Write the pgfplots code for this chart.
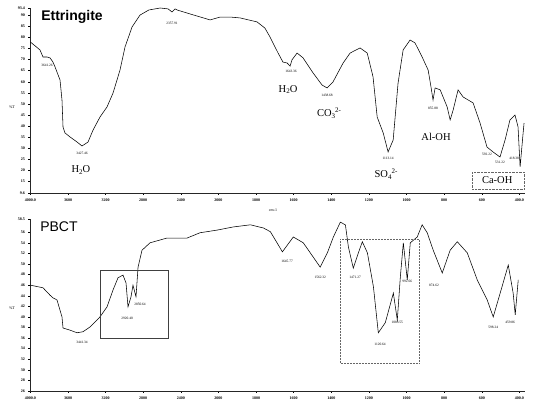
\documentclass[border=0pt]{standalone}
\usepackage{fontspec}
\setmainfont{Liberation Serif}
\newfontfamily\arial{Liberation Sans}
\usepackage{pgfplots}
\pgfplotsset{compat=1.18}
\pgfplotsset{spec/.style={
  scale only axis, width=494.6pt,
  x coord trafo/.code={\pgfmathparse{ifthenelse(##1>2000,(4000-##1)/400,5+(2000-##1)/200)}},
  xmin=4000, xmax=370,
  xtick={4000,3600,3200,2800,2400,2000,1800,1600,1400,1200,1000,800,600,400},
  xticklabels={4000.0,3600,3200,2800,2400,2000,1800,1600,1400,1200,1000,800,600,400.0},
  axis lines=left, axis line style={-, line width=0.8pt, black!85},
  tick align=outside, major tick length=2pt,
  tick style={black, line width=0.4pt},
  tick label style={font=\fontsize{4}{4}\selectfont\bfseries},
  /pgf/number format/assume math mode=true,
  /pgf/number format/fixed,
  clip=false,
}}
\newcommand{\pk}[3]{\node[font=\fontsize{3.5}{3.5}\selectfont] at (axis cs:#1,#2) {#3};}
\newcommand{\subx}[1]{\raisebox{-0.25ex}{\fontsize{7}{7}\selectfont #1}}
\newcommand{\supx}[1]{\raisebox{0.9ex}{\fontsize{7}{7}\selectfont #1}}
\begin{document}
\begin{tikzpicture}[x=1pt,y=1pt]
\useasboundingbox (0,0) rectangle (533,404);
% ---------- Ettringite ----------
\begin{axis}[spec, at={(30.4pt,211pt)}, anchor=south west, height=185pt,
  ymin=9.6, ymax=93.4,
  ytick={9.6,15,20,25,30,35,40,45,50,55,60,65,70,75,80,85,90,93.4}]
\addplot[black, line width=0.55pt] coordinates {
(4000,78.0)(3898,74.4)(3866,71.2)(3823,71.2)(3791,70.8)(3760,68.9)(3738,66.7)
(3685,60.8)(3664,51.7)(3653,39.5)(3632,36.8)(3579,35.0)(3504,32.7)(3451,30.9)
(3387,32.7)(3334,38.1)(3260,44.0)(3185,48.6)(3121,54.9)(3047,65.3)(2994,75.7)
(2919,84.8)(2834,90.2)(2740,92.5)(2620,93.4)(2536,93.0)(2494,91.6)(2462,93.0)
(2440,92.5)(2302,90.7)(2089,88.0)(1991,89.3)(1938,89.3)(1885,88.9)(1795,87.1)
(1753,84.3)(1726,80.3)(1683,73.0)(1657,68.9)(1635,68.5)(1619,67.1)(1609,69.9)
(1582,73.0)(1550,70.8)(1497,64.0)(1449,58.5)(1423,57.2)(1391,59.9)(1337,68.5)
(1300,73.0)(1247,75.3)(1209,73.0)(1178,62.2)(1156,44.0)(1124,36.8)(1098,28.2)
(1071,33.6)(1045,59.4)(1018,74.4)(981,78.9)(955,77.6)(917,71.2)(885,65.3)
(869,57.2)(859,51.7)(848,57.2)(821,56.3)(784,48.6)(768,42.7)(752,47.2)
(726,56.3)(699,53.1)(646,50.4)(609,41.3)(572,30.4)(540,28.2)(503,25.9)
(476,33.6)(450,42.7)(423,44.9)(407,39.5)(396,21.4)(380,36.8)(375,41.3)
};
\node[font=\arial\bfseries\fontsize{14}{14}\selectfont] at (axis cs:3557,89.3) {Ettringite};
\node[font=\fontsize{10.5}{10.5}\selectfont] at (axis cs:3462,20.0) {H\subx{2}O};
\node[font=\fontsize{10.5}{10.5}\selectfont] at (axis cs:1630,56.3) {H\subx{2}O};
\node[font=\fontsize{10.5}{10.5}\selectfont] at (axis cs:1412,45.8) {CO\subx{3}\supx{2-}};
\node[font=\fontsize{10.5}{10.5}\selectfont] at (axis cs:1109,18.2) {SO\subx{4}\supx{2-}};
\node[font=\fontsize{10.5}{10.5}\selectfont] at (axis cs:843,35.0) {Al-OH};
\node[font=\fontsize{10.5}{10.5}\selectfont] at (axis cs:518,15.5) {Ca-OH};
\draw[densely dotted, black!60, line width=0.4pt] (axis cs:651,19.1) rectangle (axis cs:375,11.4);
\pk{3823}{67.5}{3641.26}
\pk{3451}{27.5}{3427.46}
\pk{2494}{86.5}{2357.91}
\pk{1614}{64.5}{1643.36}
\pk{1423}{54.0}{1438.68}
\pk{1098}{25.5}{1113.14}
\pk{859}{48.0}{855.88}
\pk{572}{27.3}{592.22}
\pk{503}{23.6}{531.22}
\pk{428}{25.5}{418.38}
\node[font=\fontsize{4}{4}\selectfont] at (axis cs:4196,48.6) {\%T};
\node[font=\fontsize{4}{4}\selectfont] at (axis cs:1710,1.9) {cm-1};
\end{axis}
% ---------- PBCT ----------
\begin{axis}[spec, at={(30.4pt,13pt)}, anchor=south west, height=172pt,
  ymin=26, ymax=58.5,
  ytick={26,28,30,32,34,36,38,40,42,44,46,48,50,52,54,56,58.5}]
\addplot[black, line width=0.55pt] coordinates {
(4000,46.0)(3866,45.5)(3791,44.1)(3760,43.6)(3717,43.2)(3664,40.0)(3653,37.9)
(3579,37.5)(3504,37.0)(3440,37.2)(3366,38.1)(3260,40.0)(3185,41.9)(3121,45.1)
(3068,47.4)(3015,47.9)(2983,46.4)(2962,41.9)(2930,43.8)(2909,46.0)(2877,43.8)
(2855,49.4)(2813,52.6)(2728,54.0)(2547,54.9)(2334,54.9)(2196,55.9)(2015,56.4)
(1921,57.0)(1830,57.4)(1761,56.8)(1724,56.1)(1660,52.3)(1602,55.1)(1549,54.0)
(1496,51.3)(1459,49.4)(1421,52.1)(1389,55.1)(1352,57.9)(1325,57.4)(1309,53.2)
(1283,49.2)(1256,52.1)(1235,54.2)(1208,52.1)(1176,45.7)(1150,37.0)(1113,38.9)
(1070,44.5)(1049,39.4)(1033,47.5)(1017,54.0)(996,47.0)(980,54.0)(943,55.1)
(917,57.4)(890,55.9)(858,52.6)(810,48.3)(768,52.6)(730,54.2)(677,52.1)
(624,47.0)(571,43.2)(539,40.0)(502,44.5)(459,49.8)(433,44.5)(422,40.4)(406,47.0)
};
\node[font=\arial\fontsize{14}{14}\selectfont] at (axis cs:3696,57.0) {PBCT};
\draw[black!75, line width=0.5pt] (axis cs:3260,48.9) rectangle (axis cs:2536,36.0);
\draw[densely dotted, black!60, line width=0.5pt] (axis cs:1352,54.7) rectangle (axis cs:933,31.3);
\pk{3451}{35.1}{3441.34}
\pk{2972}{39.8}{2920.40}
\pk{2834}{42.4}{2850.64}
\pk{1635}{50.4}{1645.77}
\pk{1459}{47.5}{1562.32}
\pk{1273}{47.4}{1471.27}
\pk{996}{46.8}{992.66}
\pk{1049}{38.9}{1083.55}
\pk{1141}{34.9}{1120.64}
\pk{854}{46.0}{874.62}
\pk{539}{38.1}{598.24}
\pk{449}{38.9}{459.86}
\node[font=\fontsize{4}{4}\selectfont] at (axis cs:4196,41.7) {\%T};
\end{axis}
\end{tikzpicture}
\end{document}
